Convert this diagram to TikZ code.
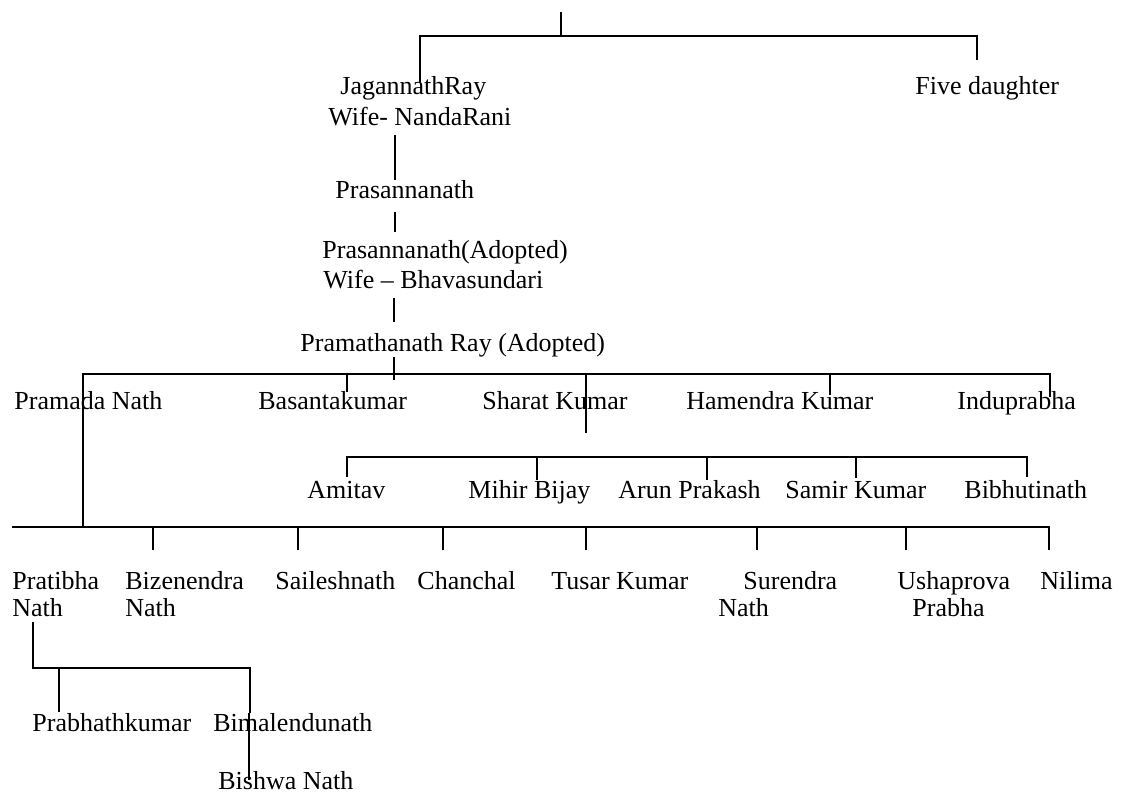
\documentclass[tikz,border=0pt]{standalone}
\usepackage{fontspec}
\setmainfont{Liberation Serif}
\begin{document}
\begin{tikzpicture}[x=0.5pt,y=-0.5pt,
  person/.style={anchor=west,inner sep=0pt,font=\fontsize{13}{15}\selectfont,
    text height=9pt,text depth=2.6pt},
  link/.style={line width=1pt,line cap=butt}]
\fill[white] (0,0) rectangle (1122,801);
\useasboundingbox (0,0) rectangle (1122,801);

% ---------- names ----------
\node[person] (jag)      at (340,88)  {JagannathRay};
\node[person] (jagw)     at (328,119) {Wife- NandaRani};
\node[person] (five)     at (915,88)  {Five daughter};
\node[person] (pras)     at (335,192) {Prasannanath};
\node[person] (prasA)    at (322,252) {Prasannanath(Adopted)};
\node[person] (prasW)    at (323,282) {Wife -- Bhavasundari};
\node[person] (pram)     at (300,345) {Pramathanath Ray (Adopted)};

\node[person] (pramada)  at (14,403)  {Pramada Nath};
\node[person] (basanta)  at (258,403) {Basantakumar};
\node[person] (sharat)   at (482,403) {Sharat Kumar};
\node[person] (hamendra) at (686,403) {Hamendra Kumar};
\node[person] (indu)     at (957,403) {Induprabha};

\node[person] (amitav)   at (307,492) {Amitav};
\node[person] (mihir)    at (468,492) {Mihir Bijay};
\node[person] (arun)     at (618,492) {Arun Prakash};
\node[person] (samir)    at (785,492) {Samir Kumar};
\node[person] (bibhuti)  at (964,492) {Bibhutinath};

\node[person] (pratibha) at (12,583)  {Pratibha};
\node[person] (pratibhaN) at (12,610) {Nath};
\node[person] (bizen)    at (125,583) {Bizenendra};
\node[person] (bizenN)   at (125,610) {Nath};
\node[person] (sailesh)  at (275,583) {Saileshnath};
\node[person] (chanchal) at (417,583) {Chanchal};
\node[person] (tusar)    at (551,583) {Tusar Kumar};
\node[person] (surendra) at (743,583) {Surendra};
\node[person] (surendraN) at (718,610) {Nath};
\node[person] (usha)     at (897,583) {Ushaprova};
\node[person] (ushaP)    at (912,610) {Prabha};
\node[person] (nilima)   at (1040,583) {Nilima};

\node[person] (prabhath) at (32,725)  {Prabhathkumar};
\node[person] (bimal)    at (213,725) {Bimalendunath};
\node[person] (bishwa)   at (218,783) {Bishwa Nath};

% ---------- bar levels ----------
\coordinate (barA) at (0,36);
\coordinate (barB) at (0,374);
\coordinate (barC) at (0,457);
\coordinate (barD) at (0,527);
\coordinate (barE) at (0,668);

% ---------- first generation ----------
\coordinate (root)   at (561,12);
\coordinate (jagIn)  at (420,82);
\coordinate (fiveIn) at (977,60);
\draw[link] (root) -- (root |- barA);
\draw[link] (jagIn) -- (jagIn |- barA) -- (fiveIn |- barA) -- (fiveIn);

% ---------- single line of descent ----------
\coordinate (d1a) at (395,135); \coordinate (d1b) at (395,180);
\coordinate (d2a) at (395,212); \coordinate (d2b) at (395,232);
\coordinate (d3a) at (394,298); \coordinate (d3b) at (394,322);
\coordinate (d4a) at (394,357); \coordinate (d4b) at (394,380);
\draw[link] (d1a) -- (d1b);
\draw[link] (d2a) -- (d2b);
\draw[link] (d3a) -- (d3b);
\draw[link] (d4a) -- (d4b);

% ---------- children of Pramathanath ----------
\coordinate (pramadaLine) at (83,527);
\coordinate (basantaIn)   at (347,392);
\coordinate (sharatLine)  at (586,433);
\coordinate (hamendraIn)  at (830,395);
\coordinate (induIn)      at (1050,397);
\draw[link] (pramadaLine) -- (pramadaLine |- barB) -- (induIn |- barB) -- (induIn);
\draw[link] (basantaIn) -- (basantaIn |- barB);
\draw[link] (sharatLine) -- (sharatLine |- barB);
\draw[link] (hamendraIn) -- (hamendraIn |- barB);

% ---------- Amitav row ----------
\coordinate (amitavIn)  at (347,477);
\coordinate (mihirIn)   at (537,480);
\coordinate (arunIn)    at (707,480);
\coordinate (samirIn)   at (856,478);
\coordinate (bibhutiIn) at (1027,477);
\draw[link] (amitavIn) -- (amitavIn |- barC) -- (bibhutiIn |- barC) -- (bibhutiIn);
\draw[link] (mihirIn) -- (mihirIn |- barC);
\draw[link] (arunIn) -- (arunIn |- barC);
\draw[link] (samirIn) -- (samirIn |- barC);

% ---------- children of Pramada Nath ----------
\coordinate (leftEnd)    at (12,527);
\coordinate (bizenIn)    at (153,550);
\coordinate (saileshIn)  at (298,550);
\coordinate (chanchalIn) at (443,550);
\coordinate (tusarIn)    at (586,550);
\coordinate (surendraIn) at (757,550);
\coordinate (ushaIn)     at (906,550);
\coordinate (nilimaIn)   at (1049,550);
\draw[link] (leftEnd) -- (nilimaIn |- barD) -- (nilimaIn);
\foreach \c in {bizenIn,saileshIn,chanchalIn,tusarIn,surendraIn,ushaIn}
  \draw[link] (\c) -- (\c |- barD);

% ---------- children of Pratibha Nath ----------
\coordinate (pratibhaOut) at (33,622);
\coordinate (prabhathIn)  at (59,712);
\coordinate (bimalIn)     at (250,713);
\coordinate (bimalOut)    at (249,713);
\coordinate (bishwaIn)    at (249,780);
\draw[link] (pratibhaOut) -- (pratibhaOut |- barE) -- (bimalIn |- barE) -- (bimalIn);
\draw[link] (prabhathIn) -- (prabhathIn |- barE);
\draw[link] (bimalOut) -- (bishwaIn);
\end{tikzpicture}
\end{document}
